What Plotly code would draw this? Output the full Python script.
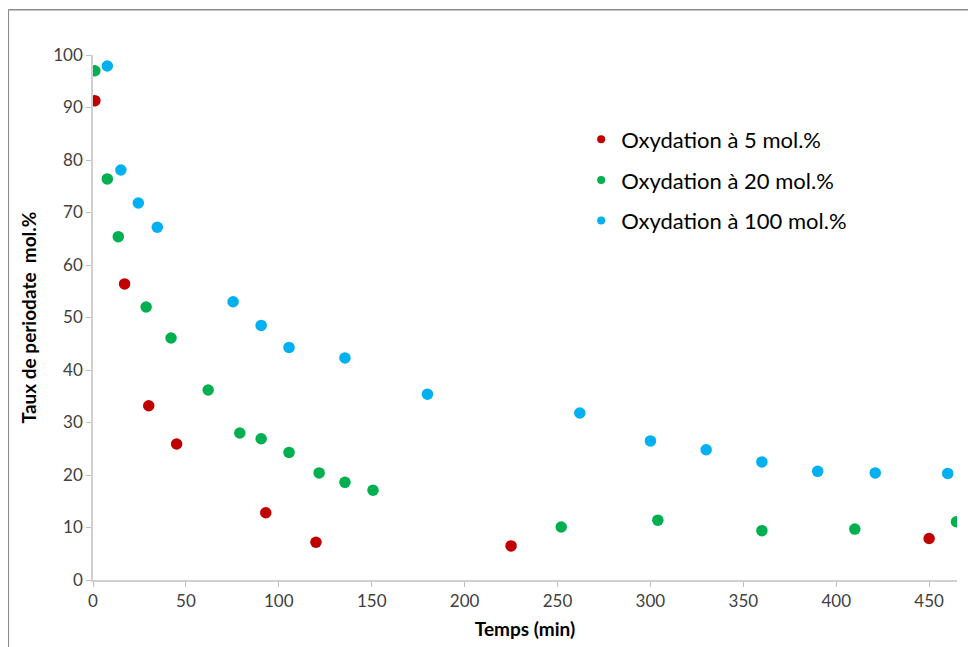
import plotly.graph_objects as go

# Data (time in min, periodate rate mol.%)
red_x = [1, 17, 30, 45, 93, 120, 225, 450]
red_y = [91.3, 56.4, 33.2, 25.9, 12.8, 7.2, 6.5, 7.9]

green_x = [1, 7.7, 13.6, 28.6, 42, 62, 79, 90.5, 105.5, 121.7, 135.6, 150.7, 252, 304, 360, 410, 464.7]
green_y = [97.0, 76.4, 65.4, 52.0, 46.1, 36.2, 28.0, 26.9, 24.3, 20.4, 18.6, 17.1, 10.1, 11.4, 9.4, 9.7, 11.1]

blue_x = [7.7, 15, 24.4, 34.6, 75.4, 90.5, 105.5, 135.6, 180, 262, 300, 330, 360, 390, 421, 460]
blue_y = [97.9, 78.1, 71.8, 67.2, 53.0, 48.5, 44.3, 42.3, 35.4, 31.8, 26.5, 24.8, 22.5, 20.7, 20.4, 20.3]

series_names = ["Oxydation à 5 mol.%", "Oxydation à 20 mol.%", "Oxydation à 100 mol.%"]
colors = ["#c00000", "#00b050", "#00b0f0"]

x_ticks = [0, 50, 100, 150, 200, 250, 300, 350, 400, 450]
y_ticks = [0, 10, 20, 30, 40, 50, 60, 70, 80, 90, 100]

FONT = "Lato, Open Sans, sans-serif"

fig = go.Figure()
for xs, ys, c in zip([red_x, green_x, blue_x], [red_y, green_y, blue_y], colors):
    fig.add_trace(go.Scatter(x=xs, y=ys, mode="markers", showlegend=False,
                             marker=dict(color=c, size=11.5, line=dict(width=0))))
# legend entries with smaller symbols
for i, (name, c) in enumerate(zip(series_names, colors)):
    fig.add_trace(go.Scatter(x=[None], y=[None], mode="markers", name=name,
                             legendgroup=f"g{i}",
                             marker=dict(color=c, size=8)))

fig.update_layout(
    width=976, height=647,
    paper_bgcolor="white", plot_bgcolor="white",
    margin=dict(l=85, r=27, t=47, b=75),
    font=dict(family=FONT, color="#404040"),
    showlegend=True,
    legend=dict(x=0.565, y=0.879, xanchor="left", yanchor="top",
                font=dict(size=22, color="#000000", family=FONT),
                traceorder="grouped", tracegroupgap=9,
                bgcolor="rgba(0,0,0,0)"),
    xaxis=dict(range=[0, 465], tickvals=x_ticks, showgrid=False, zeroline=False,
               showline=True, linecolor="#d0d0d0", linewidth=1.5,
               ticks="outside", ticklen=5, tickcolor="#bfbfbf",
               tickfont=dict(size=17, color="#404040"),
               title=dict(text="<b>Temps (min)</b>", font=dict(size=19, color="#000000"), standoff=13)),
    yaxis=dict(range=[0, 100], tickvals=y_ticks, showgrid=False, zeroline=False,
               showline=True, linecolor="#d0d0d0", linewidth=1.5,
               ticks="outside", ticklen=5, tickcolor="#bfbfbf",
               tickfont=dict(size=17, color="#404040"),
               title=dict(text="<b>Taux de periodate  mol.%</b>", font=dict(size=19, color="#000000"), standoff=12)),
    shapes=[
        dict(type="line", xref="paper", yref="paper", x0=-0.098, x1=1.05, y0=1.086, y1=1.086,
             line=dict(color="#8c8c8c", width=1.5)),
        dict(type="line", xref="paper", yref="paper", x0=-0.098, x1=-0.098, y0=1.086, y1=-0.2,
             line=dict(color="#8c8c8c", width=1.5)),
    ],
)

fig.write_html("out.html")
